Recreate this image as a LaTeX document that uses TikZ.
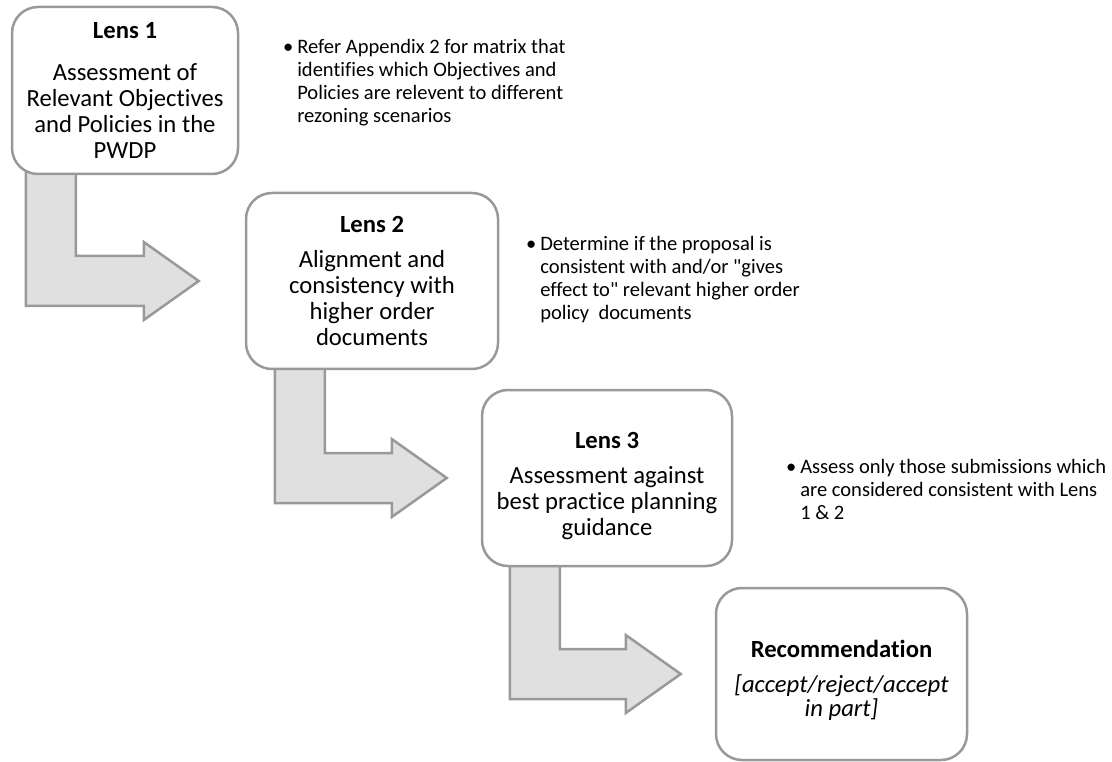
\documentclass[tikz,border=0pt]{standalone}
\usepackage{fontspec}
\setmainfont{Carlito}[Ligatures={TeXOff,CommonOff}]
\usetikzlibrary{calc,backgrounds}

\newlength{\du}
\setlength{\du}{0.75pt}

\definecolor{lensline}{rgb}{0.600000, 0.600000, 0.600000}
\definecolor{lensarrow}{rgb}{0.878000, 0.878000, 0.878000}

\tikzset{
  lensbox/.style={draw=lensline, line width=2.5\du, fill=white, rounded corners=26\du,
    align=center, inner sep=0pt, font=\fontsize{18.5}{19.5}\selectfont},
  bentarrow/.style={draw=lensline, line width=2.5\du, fill=lensarrow, line join=miter},
  notetext/.style={anchor=north west, inner sep=0pt, align=left,
    font=\fontsize{15.4}{17.3}\selectfont}
}

% lowers the text block inside a box
\newcommand{\topgap}[1]{\rule{0pt}{#1}}

% bent block arrow from the foot of one box to the side of the next
\newcommand{\stepdown}[4]{%
  \begin{scope}[on background layer]
  \coordinate (bartop) at ($(#1.south west)+(#3,-6)$);
  \coordinate (tip) at ($(#2.west)+(-#4,0)$);
  \draw[bentarrow] (bartop) -- ($(bartop |- tip)+(0,25)$) -- ($(tip)+(-55,25)$)
    -- ($(tip)+(-55,39)$) -- (tip) -- ($(tip)+(-55,-39)$) -- ($(tip)+(-55,-25)$)
    -- ($(bartop |- tip)+(50,-25)$) -- ($(bartop)+(50,0)$) -- cycle;
  \end{scope}
}

\begin{document}
\begin{tikzpicture}[x=\du,y=-\du]
\useasboundingbox (0,0) rectangle (1112,762);

% the four lenses
\node[lensbox, minimum width=226\du, minimum height=167\du] (lensA) at (125,90.5)
  {\textbf{Lens 1}\\[12pt]Assessment of\\Relevant Objectives\\and Policies in the\\PWDP};
\node[lensbox, minimum width=252\du, minimum height=176\du] (lensB) at (372,281)
  {\textbf{Lens 2}\\[7pt]Alignment and\\consistency with\\higher order\\documents};
\node[lensbox, minimum width=250\du, minimum height=176\du] (lensC) at (607,478)
  {\topgap{24pt}\textbf{Lens 3}\\[7pt]Assessment against\\best practice planning\\guidance};
\node[lensbox, minimum width=251\du, minimum height=172\du] (recom) at (841.5,674)
  {\topgap{22pt}\textbf{Recommendation}\\[7pt]\textit{[accept/reject/accept}\\[-1.5pt]\textit{in part]}};

\stepdown{lensA}{lensB}{15}{46}
\stepdown{lensB}{lensC}{30}{34}
\stepdown{lensC}{recom}{29}{34}

% setfont left to latex
\node[notetext] (noteA) at (297,39) {\llap{•\hspace{4\du}}Refer Appendix 2 for matrix that\\identifies which Objectives and\\Policies are relevent to different\\rezoning scenarios};
\node[notetext] (noteB) at (540,236) {\llap{•\hspace{4\du}}Determine if the proposal is\\consistent with and/or "gives\\effect to" relevant higher order\\policy\ \ documents};
\node[notetext] (noteC) at (800,459) {\llap{•\hspace{4\du}}Assess only those submissions which\\are considered consistent with Lens\\1 \& 2};
\end{tikzpicture}
\end{document}
